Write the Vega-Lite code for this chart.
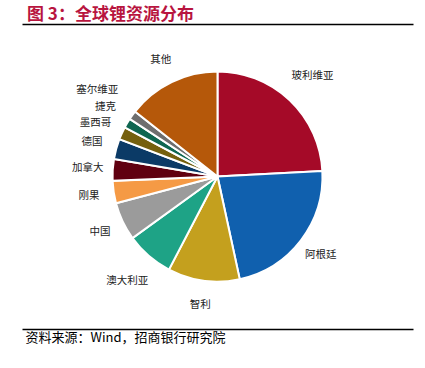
{
  "$schema": "https://vega.github.io/schema/vega-lite/v6.json",
  "width": 391,
  "height": 305,
  "autosize": {"type": "none"},
  "padding": {"left": 22, "top": 24, "right": 12, "bottom": 39},
  "background": "white",
  "config": {"view": {"stroke": null}},
  "title": {
    "text": "图 3：全球锂资源分布",
    "anchor": "start",
    "frame": "group",
    "dx": 5,
    "offset": 0,
    "fontSize": 17,
    "font": "Noto Sans CJK SC",
    "fontWeight": "bold",
    "color": "#B8153F"
  },
  "data": {
    "values": [
      {"idx": 1, "name": "玻利维亚", "value": 21.0},
      {"idx": 2, "name": "阿根廷", "value": 19.5},
      {"idx": 3, "name": "智利", "value": 9.6},
      {"idx": 4, "name": "澳大利亚", "value": 6.4},
      {"idx": 5, "name": "中国", "value": 5.1},
      {"idx": 6, "name": "刚果", "value": 3.0},
      {"idx": 7, "name": "加拿大", "value": 2.9},
      {"idx": 8, "name": "德国", "value": 2.7},
      {"idx": 9, "name": "墨西哥", "value": 1.7},
      {"idx": 10, "name": "捷克", "value": 1.3},
      {"idx": 11, "name": "塞尔维亚", "value": 1.2},
      {"idx": 12, "name": "其他", "value": 12.5}
    ]
  },
  "layer": [
    {
      "mark": {"type": "rule", "opacity": 0},
      "encoding": {
        "x": {
          "field": "value",
          "type": "quantitative",
          "axis": {
            "orient": "top",
            "title": null,
            "labels": false,
            "ticks": false,
            "grid": false,
            "domainColor": "#000000",
            "domainWidth": 1.5
          }
        }
      }
    },
    {
      "mark": {"type": "rule", "opacity": 0},
      "encoding": {
        "x": {
          "field": "value",
          "type": "quantitative",
          "axis": {
            "orient": "bottom",
            "title": "资料来源：Wind，招商银行研究院",
            "titleFont": "Noto Sans CJK SC",
            "titleFontSize": 13,
            "titleFontWeight": "normal",
            "titleColor": "#000000",
            "titleAnchor": "start",
            "titleAlign": "left",
            "titleX": 3,
            "titlePadding": 2,
            "labels": false,
            "ticks": false,
            "grid": false,
            "domainColor": "#000000",
            "domainWidth": 1.5
          }
        }
      }
    },
    {
      "mark": {"type": "arc", "outerRadius": 105, "stroke": "white", "strokeWidth": 2},
      "encoding": {
        "theta": {"field": "value", "type": "quantitative", "stack": true},
        "order": {"field": "idx", "type": "quantitative"},
        "color": {
          "field": "name",
          "type": "nominal",
          "legend": null,
          "scale": {
            "domain": ["玻利维亚", "阿根廷", "智利", "澳大利亚", "中国", "刚果", "加拿大", "德国", "墨西哥", "捷克", "塞尔维亚", "其他"],
            "range": ["#A50A28", "#1060AE", "#C4A01E", "#1EA386", "#9B9B9B", "#F59A45", "#600010", "#0B3A66", "#75600E", "#0E6650", "#6E6E6E", "#B5580A"]
          }
        }
      }
    },
    {
      "mark": {
        "type": "text",
        "radius": {"expr": "datum.name === '塞尔维亚' ? 148 : (datum.name === '玻利维亚' ? 138 : (datum.name === '澳大利亚' ? 138 : (datum.name === '墨西哥' ? 134 : 130)))"},
        "dy": {"expr": "datum.name === '捷克' ? -3 : (datum.name === '墨西哥' ? 2 : 0)"},
        "font": "Noto Sans CJK SC",
        "fontSize": 10.5,
        "color": "#222222"
      },
      "encoding": {
        "theta": {"field": "value", "type": "quantitative", "stack": true},
        "order": {"field": "idx", "type": "quantitative"},
        "text": {"field": "name", "type": "nominal"}
      }
    }
  ],
  "resolve": {"scale": {"x": "independent"}, "axis": {"x": "independent"}}
}
